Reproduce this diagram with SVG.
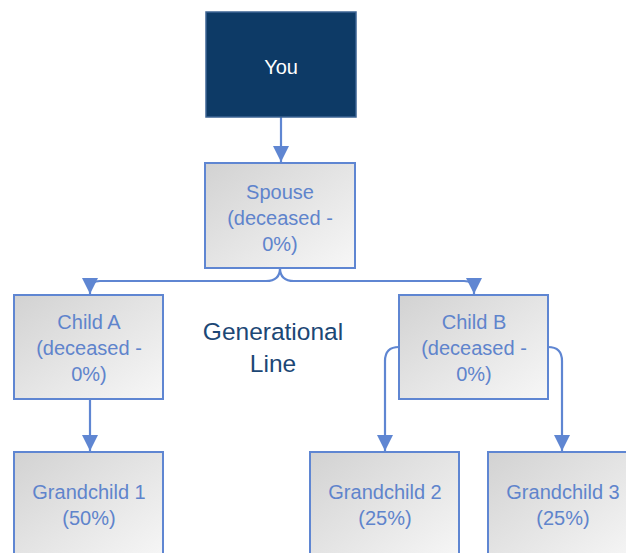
<svg xmlns="http://www.w3.org/2000/svg" width="626" height="553" viewBox="0 0 626 553">
<style>
.box{fill:url(#g);stroke:#5f86d2;stroke-width:2}
.t{font-family:"Liberation Sans",Arial,sans-serif;font-size:20px;fill:#5f84cc;text-anchor:middle}
.c{fill:none;stroke:#5f86d2;stroke-width:2.2}
</style>
<defs>
<linearGradient id="g" x1="0" y1="0" x2="1" y2="1">
<stop offset="0" stop-color="#d2d2d2"/>
<stop offset="1" stop-color="#f7f7f7"/>
</linearGradient>
<marker id="a" viewBox="0 0 16 16" refX="16" refY="8" markerWidth="16" markerHeight="16" markerUnits="userSpaceOnUse" orient="auto">
<path d="M0,0 L16,8 L0,16 Z" fill="#5f86d2"/>
</marker>
</defs>
<rect width="626" height="553" fill="#ffffff"/>
<g id="connectors">
<path class="c" d="M281,117 V162" marker-end="url(#a)"/>
<path class="c" d="M280,268 Q280,281 266,281 H100 Q90,281 90,291 V294" marker-end="url(#a)"/>
<path class="c" d="M280,268 Q280,281 294,281 H464 Q474,281 474,291 V294" marker-end="url(#a)"/>
<path class="c" d="M90,399 V451" marker-end="url(#a)"/>
<path class="c" d="M399,347 Q385,347 385,361 V451" marker-end="url(#a)"/>
<path class="c" d="M548,347 Q562,347 562,361 V451" marker-end="url(#a)"/>
</g>
<g id="you">
<rect x="206" y="12" width="150" height="105" fill="#0d3a66" stroke="#3c6494" stroke-width="1.5"/>
<text x="281" y="74" class="t" style="fill:#ffffff">You</text>
</g>
<g id="spouse">
<rect class="box" x="205" y="163" width="150" height="105"/>
<text class="t" x="280" y="199">Spouse</text>
<text class="t" x="280" y="225">(deceased -</text>
<text class="t" x="280" y="251">0%)</text>
</g>
<g id="childA">
<rect class="box" x="14" y="295" width="149" height="104"/>
<text class="t" x="89" y="329">Child A</text>
<text class="t" x="89" y="355">(deceased -</text>
<text class="t" x="89" y="381">0%)</text>
</g>
<g id="childB">
<rect class="box" x="399" y="295" width="149" height="104"/>
<text class="t" x="474" y="329">Child B</text>
<text class="t" x="474" y="355">(deceased -</text>
<text class="t" x="474" y="381">0%)</text>
</g>
<g id="label">
<text x="273" y="340" style="font-family:'Liberation Sans',Arial,sans-serif;font-size:24.5px;fill:#1c4775;text-anchor:middle">Generational</text>
<text x="273" y="372" style="font-family:'Liberation Sans',Arial,sans-serif;font-size:24.5px;fill:#1c4775;text-anchor:middle">Line</text>
</g>
<g id="grandchild1">
<rect class="box" x="14" y="452" width="149" height="110"/>
<text class="t" x="89" y="499">Grandchild 1</text>
<text class="t" x="89" y="525">(50%)</text>
</g>
<g id="grandchild2">
<rect class="box" x="310" y="452" width="149" height="110"/>
<text class="t" x="385" y="499">Grandchild 2</text>
<text class="t" x="385" y="525">(25%)</text>
</g>
<g id="grandchild3">
<rect class="box" x="488" y="452" width="150" height="110"/>
<text class="t" x="563" y="499">Grandchild 3</text>
<text class="t" x="563" y="525">(25%)</text>
</g>
</svg>
